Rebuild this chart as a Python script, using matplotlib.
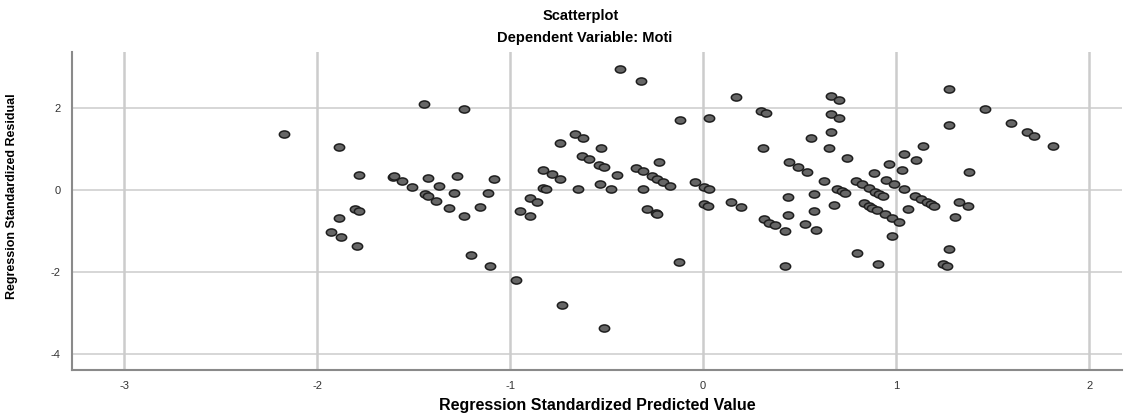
import matplotlib
matplotlib.use("Agg")
import matplotlib.pyplot as plt
import numpy as np
from matplotlib.path import Path
from matplotlib.transforms import Affine2D

plt.rcParams["font.family"] = ["Liberation Sans", "DejaVu Sans"]
plt.rcParams["axes.unicode_minus"] = False

# Regression standardized predicted value (x) and residual (y)
pred = [
    -1.445, -2.170, -1.888, -1.785, -1.607, -1.600, -1.561, -1.510, -1.426, -1.368,
    -1.443, -1.424, -1.382, -1.803, -1.785, -1.888, -1.927, -1.875, -1.794,
    -1.239, -1.277, -1.291, -1.315, -1.237, -1.154, -1.116, -1.083, -1.204, -1.104,
    -0.969, -0.948, -0.899, -0.898, -0.861, -0.832, -0.832, -0.815, -0.785, -0.742,
    -0.744, -0.731, -0.664, -0.622, -0.648, -0.629, -0.589, -0.529, -0.541, -0.515,
    -0.534, -0.478, -0.445, -0.516, -0.432, -0.321, -0.348, -0.310, -0.312, -0.291,
    -0.246, -0.240, -0.267, -0.237, -0.210, -0.173, -0.229, -0.118, -0.123, -0.040,
    0.007, 0.033, 0.003, 0.024, 0.028, 0.168, 0.146, 0.198, 0.298, 0.326,
    0.310, 0.315, 0.343, 0.374, 0.425, 0.425, 0.442, 0.442, 0.444, 0.490,
    0.539, 0.558, 0.575, 0.575, 0.584, 0.528, 0.627, 0.651, 0.661, 0.665,
    0.703, 0.665, 0.703, 0.696, 0.718, 0.737, 0.680, 0.746, 0.798, 0.794,
    0.822, 0.860, 0.886, 0.889, 0.912, 0.934, 0.831, 0.857, 0.877, 0.900,
    0.941, 0.978, 1.014, 0.908, 0.950, 0.965, 0.988, 0.978, 1.033, 1.043,
    1.040, 1.062, 1.102, 1.100, 1.128, 1.159, 1.180, 1.195, 1.138, 1.275,
    1.275, 1.244, 1.266, 1.273, 1.304, 1.326, 1.373, 1.378, 1.463, 1.596,
    1.679, 1.712, 1.812,
]
resid = [
    2.10, 1.36, 1.065, 0.374, 0.333, 0.340, 0.220, 0.090, 0.300, 0.110,
    -0.090, -0.130, -0.250, -0.460, -0.500, -0.675, -1.016, -1.140, -1.350,
    1.980, 0.340, -0.060, -0.430, -0.630, -0.410, -0.065, 0.285, -1.585, -1.846,
    -2.195, -0.504, -0.195, -0.626, -0.293, 0.504, 0.057, 0.033, 0.390, 0.285,
    1.146, -2.797, 1.374, 1.268, 0.033, 0.837, 0.756, 1.024, 0.618, 0.561,
    0.163, 0.033, 0.382, -3.350, 2.950, 2.667, 0.553, 0.480, 0.033, -0.455,
    -0.561, -0.570, 0.341, 0.276, 0.203, 0.114, 0.691, 1.707, -1.748, 0.203,
    0.081, 0.033, -0.341, -0.382, 1.772, 2.276, -0.276, -0.407, 1.935, 1.878,
    1.040, -0.707, -0.789, -0.854, -0.984, -1.854, -0.163, -0.602, 0.691, 0.577,
    0.447, 1.268, -0.081, -0.512, -0.967, -0.829, 0.220, 1.024, 1.423, 2.300,
    2.200, 1.862, 1.764, 0.040, -0.008, -0.057, -0.350, 0.789, -1.528, 0.228,
    0.163, 0.065, 0.423, -0.033, -0.081, -0.146, -0.300, -0.374, -0.423, -0.480,
    -0.585, -0.675, -0.764, -1.805, 0.260, 0.650, 0.163, -1.114, 0.488, 0.886,
    0.033, -0.463, 0.740, -0.146, -0.211, -0.293, -0.341, -0.374, 1.081, 2.463,
    1.593, -1.805, -1.854, -1.439, -0.650, -0.276, -0.390, 0.447, 1.984, 1.634,
    1.423, 1.333, 1.081,
]

x_ticks = [-3, -2, -1, 0, 1, 2]
y_ticks = [-4, -2, 0, 2]

# wide ellipse marker like the SPSS output
circle = Path.unit_circle()
ellipse = Path(Affine2D().scale(1.45, 1.0).transform(circle.vertices), circle.codes)

fig = plt.figure(figsize=(11.35, 4.17), dpi=100)
ax = fig.add_axes([0.0634, 0.1127, 0.9251, 0.7626])

ax.scatter(pred, resid, s=55, marker=ellipse, facecolor="#666666",
           edgecolor="#1e1e1e", linewidth=1.1, zorder=3)

ax.set_xlim(-3.27, 2.17)
ax.set_ylim(-4.38, 3.37)
ax.set_xticks(x_ticks)
ax.set_yticks(y_ticks)
ax.tick_params(length=0, labelsize=8, colors="#333333", pad=8)

for v in x_ticks:
    ax.axvline(v, color="#cccccc", linewidth=1.8, zorder=1)
for v in y_ticks:
    ax.axhline(v, color="#cccccc", linewidth=1.1, zorder=1)

for side in ["top", "right"]:
    ax.spines[side].set_visible(False)
for side in ["left", "bottom"]:
    ax.spines[side].set_color("#8a8a8a")
    ax.spines[side].set_linewidth(1.5)

ax.set_xlabel("Regression Standardized Predicted Value", fontsize=11.5,
              fontweight="bold")
ax.xaxis.set_label_coords(0.5, -0.088)
ax.set_ylabel("Regression Standardized Residual", fontsize=9,
              fontweight="bold")
ax.yaxis.set_label_coords(-0.051, 0.547)

fig.text(0.512, 0.962, "Scatterplot", ha="center", va="center",
         fontsize=10.5, fontweight="bold")
fig.text(0.515, 0.908, "Dependent Variable: Moti", ha="center", va="center",
         fontsize=10.5, fontweight="bold")

fig.savefig("out.png", dpi=100)
